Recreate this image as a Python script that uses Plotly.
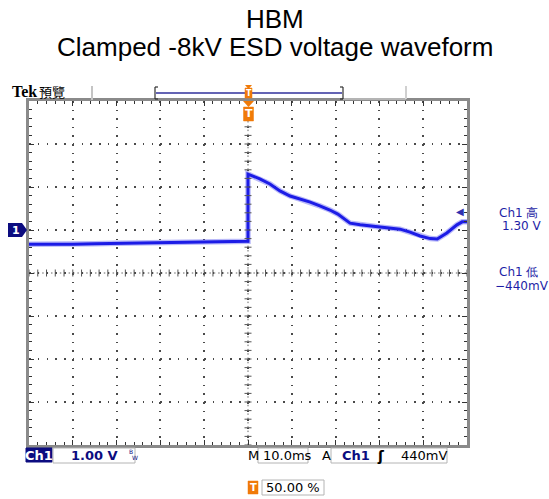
import plotly.graph_objects as go
import numpy as np

time_ms = [-50, -45, -40, -35, -30, -25, -20, -15, -10, -5, -0.3, 0.0, 0.0, 0.5,
           2.7, 5.0, 7.3, 9.6, 11.9, 14.2, 16.4, 18.7, 20.5, 23.3, 25.6, 30.1,
           34.7, 37.0, 39.3, 41.6, 43.2, 45.4, 47.7, 48.9, 50.0]
voltage_v = [-0.33, -0.335, -0.33, -0.32, -0.31, -0.305, -0.30, -0.29, -0.28, -0.275,
             -0.26, -0.26, 1.30, 1.28,
             1.19, 1.07, 0.91, 0.79, 0.72, 0.65, 0.56, 0.465, 0.37, 0.16, 0.12, 0.07,
             0.02, -0.05, -0.14, -0.20, -0.21, -0.07, 0.12, 0.19, 0.19]

title_lines = ["HBM", "Clamped -8kV ESD voltage waveform"]
ch1_high = "1.30 V"
ch1_low = "\u2212440mV"
volts_per_div = "1.00 V"
time_per_div = "10.0ms"
trigger_level_text = "440mV"
trigger_level_v = 0.44
trigger_pos = "50.00 %"

x_range = [-50, 50]      # 10 div x 10 ms
y_range = [-5, 3]        # 8 div x 1 V, ground 1 div above centre

# ---------------- geometry helpers (pixels -> paper) ----------------
L, R, T, B = 29, 467, 101, 445
FW, FH = 549, 499
def px(x):
    return (x - L) / (R - L)
def py(y):
    return (B - y) / (B - T)

NAVY = "#0c0c80"
BLUE_TXT = "#1e1ea6"
ORANGE = "#f07a08"
TRACE = "#1c1ce6"

fig = go.Figure()

# halo + trace
fig.add_trace(go.Scatter(x=time_ms, y=voltage_v, mode="lines",
                         line=dict(color="rgba(80,80,240,0.4)", width=5.5),
                         hoverinfo="skip", showlegend=False))
fig.add_trace(go.Scatter(x=time_ms, y=voltage_v, mode="lines",
                         line=dict(color=TRACE, width=3),
                         showlegend=False))

# centre cross tick marks
xc = np.arange(x_range[0], x_range[1] + 0.01, 2.0)
yc = np.arange(y_range[0], y_range[1] + 0.01, 0.2)
yc_mid = (y_range[0] + y_range[1]) / 2
fig.add_trace(go.Scatter(x=xc, y=[yc_mid] * len(xc), mode="markers",
                         marker=dict(symbol="line-ns", size=5,
                                     line=dict(color="#555555", width=1)),
                         hoverinfo="skip", showlegend=False))
fig.add_trace(go.Scatter(x=[0] * len(yc), y=yc, mode="markers",
                         marker=dict(symbol="line-ew", size=5,
                                     line=dict(color="#555555", width=1)),
                         hoverinfo="skip", showlegend=False))

shapes = []
# centre lines
shapes.append(dict(type="line", xref="x", yref="y", x0=x_range[0], x1=x_range[1],
                   y0=yc_mid, y1=yc_mid,
                   line=dict(color="#666666", width=1, dash="1.5px,2.9px"), layer="below"))
shapes.append(dict(type="line", xref="x", yref="y", x0=0, x1=0,
                   y0=y_range[0], y1=y_range[1],
                   line=dict(color="#666666", width=1, dash="1.5px,2.8px"), layer="below"))

# ground marker "1"
g = 0.16
shapes.append(dict(type="path", xref="paper", yref="y",
                   path=f"M{px(8)},{g} L{px(22)},{g} L{px(27)},0 L{px(22)},{-g} L{px(8)},{-g} Z",
                   fillcolor=NAVY, line=dict(width=0)))

def prect(x0, y0, x1, y1, fill=None, line="#b4b4b4", lw=1):
    return dict(type="rect", xref="paper", yref="paper",
                x0=px(x0), x1=px(x1), y0=py(y1), y1=py(y0),
                fillcolor=fill if fill else "rgba(0,0,0,0)",
                line=dict(color=line, width=lw))

def pline(x0, y0, x1, y1, color, w):
    return dict(type="line", xref="paper", yref="paper",
                x0=px(x0), x1=px(x1), y0=py(y0), y1=py(y1),
                line=dict(color=color, width=w))

def ppath(pts, fill):
    p = "M" + " L".join(f"{px(a)},{py(b)}" for a, b in pts) + " Z"
    return dict(type="path", xref="paper", yref="paper", path=p,
                fillcolor=fill, line=dict(width=0))

# top record bar
shapes.append(pline(92, 86, 92, 100, "#c4c4c4", 2))
shapes.append(pline(406, 86, 406, 99, "#d0d0d0", 2))
shapes.append(pline(343, 99, 406, 99, "#dedede", 1))
shapes.append(pline(156, 93, 342, 93, "#6464b4", 2))
shapes.append(pline(155, 87, 155, 99, "#303030", 1.2))
shapes.append(pline(155, 87, 158, 87, "#303030", 1.2))
shapes.append(pline(155, 99, 158, 99, "#303030", 1.2))
shapes.append(pline(343, 87, 343, 99, "#303030", 1.2))
shapes.append(pline(340, 87, 343, 87, "#303030", 1.2))
shapes.append(pline(340, 99, 343, 99, "#303030", 1.2))

# trigger position markers
shapes.append(ppath([(245, 85), (252, 85), (248.5, 89)], ORANGE))
shapes.append(prect(245, 88, 252, 98, fill=ORANGE, line=ORANGE, lw=0.5))
shapes.append(ppath([(243, 101), (254, 101), (248.5, 107)], ORANGE))
shapes.append(prect(243.5, 107, 253.5, 121, fill=ORANGE, line=ORANGE, lw=0.5))

# status bar boxes
shapes.append(prect(26, 448, 52, 462, fill=NAVY, line=NAVY))
shapes.append(prect(53, 448, 135, 463))
shapes.append(prect(258, 448, 308, 463))
shapes.append(prect(331, 448, 447, 463))
shapes.append(prect(248, 481, 258, 494, fill=ORANGE, line=ORANGE, lw=0.5))
shapes.append(prect(262, 480, 324, 495))

annotations = []
def ann(text, x, y, size=13, color="black", family="DejaVu Sans", xanchor="left",
        bold=False):
    t = f"<b>{text}</b>" if bold else text
    annotations.append(dict(text=t, xref="paper", yref="paper", x=px(x), y=py(y),
                            xanchor=xanchor, yanchor="middle", showarrow=False,
                            font=dict(size=size, color=color, family=family)))

# title
ann(title_lines[0], 274.5, 19, size=26, family="Liberation Sans", xanchor="center")
ann(title_lines[1], 274.5, 47, size=26, family="Liberation Sans", xanchor="center")

# top-left label
ann("Tek", 10, 92, size=16, family="Liberation Serif", bold=True)
ann("預覽", 37, 92, size=13, family="Noto Sans CJK TC")

# trigger "T"s
ann("T", 248.5, 93.5, size=8, color="white", xanchor="center", bold=True)
ann("T", 248.5, 114, size=11, color="white", xanchor="center", bold=True)

# ground marker label
annotations.append(dict(text="<b>1</b>", xref="paper", yref="y", x=px(15.5), y=0,
                        xanchor="center", yanchor="middle", showarrow=False,
                        font=dict(size=11, color="white", family="DejaVu Sans")))
# trigger level arrow at right edge
annotations.append(dict(text="\u25c0", xref="x", yref="y", x=x_range[1], y=trigger_level_v,
                        xanchor="right", yanchor="middle", showarrow=False, xshift=-1,
                        font=dict(size=10, color="#3030b0", family="DejaVu Sans")))

# right readouts
ann("Ch1 高", 497, 213, size=12, color=BLUE_TXT)
ann(ch1_high, 500, 226, size=12, color=BLUE_TXT)
ann("Ch1 低", 497, 272, size=12, color=BLUE_TXT)
ann(ch1_low, 493, 286, size=12, color=BLUE_TXT)

# status bar texts
ann("Ch1", 39, 455, size=13, color="white", xanchor="center", bold=True)
ann(volts_per_div, 69, 455.5, size=13, color=NAVY, bold=True)
ann("B", 127, 451, size=6, color=NAVY)
ann("W", 130, 457, size=6, color=NAVY)
ann("M", 246, 455.5, size=13)
ann(time_per_div, 261, 455.5, size=13)
ann("A", 320, 455.5, size=13)
ann("Ch1", 340, 455.5, size=13, color=NAVY, bold=True)
ann("ʃ", 375, 455.5, size=14, bold=True)
ann(trigger_level_text, 399, 455.5, size=13)
ann("T", 253, 487.5, size=10, color="white", xanchor="center", bold=True)
ann(trigger_pos, 264, 487.5, size=13)

axis_common = dict(showticklabels=False, showline=True, linecolor="#8a8a8a",
                   linewidth=3, mirror="allticks", ticks="inside", ticklen=5,
                   tickcolor="#333333", tickwidth=1, zeroline=False,
                   gridcolor="#4a4a4a", gridwidth=1.5, fixedrange=True)

fig.update_layout(
    width=FW, height=FH, autosize=False,
    margin=dict(l=L, r=FW - R, t=T, b=FH - B, pad=0),
    paper_bgcolor="white", plot_bgcolor="white",
    showlegend=False,
    xaxis=dict(range=x_range, dtick=10, griddash="1.5px,7.1px",
               minor=dict(dtick=2, ticks="inside", ticklen=3, tickcolor="#333333",
                          showgrid=False),
               **axis_common),
    yaxis=dict(range=y_range, dtick=1, griddash="1.5px,7.26px",
               minor=dict(dtick=0.2, ticks="inside", ticklen=3, tickcolor="#333333",
                          showgrid=False),
               **axis_common),
    shapes=shapes,
    annotations=annotations,
)

fig.write_html("out.html", config={"displayModeBar": False},
               post_script="document.body.style.margin='0';document.body.style.overflow='hidden';")
